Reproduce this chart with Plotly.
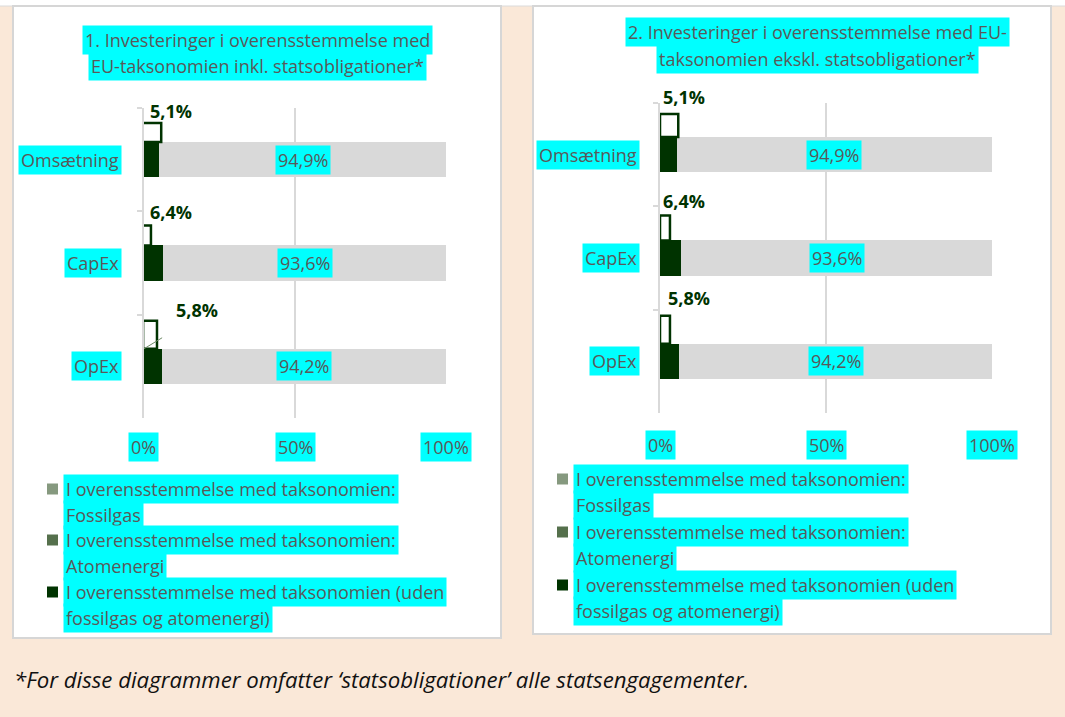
import plotly.graph_objects as go

# ---------------- data ----------------
categories = ["Omsætning", "CapEx", "OpEx"]
series_names = [
    "I overensstemmelse med taksonomien: Fossilgas",
    "I overensstemmelse med taksonomien: Atomenergi",
    "I overensstemmelse med taksonomien (uden fossilgas og atomenergi)",
    "Ikke i overensstemmelse med taksonomien",
]
legend_lines = [
    ["I overensstemmelse med taksonomien:", "Fossilgas"],
    ["I overensstemmelse med taksonomien:", "Atomenergi"],
    ["I overensstemmelse med taksonomien (uden", "fossilgas og atomenergi)"],
]
# chart 1: incl. sovereign bonds
fossilgas_1 = [0.0, 0.0, 0.0]
atomenergi_1 = [0.0, 0.0, 0.0]
aligned_1 = [5.1, 6.4, 5.8]
other_1 = [94.9, 93.6, 94.2]
# chart 2: excl. sovereign bonds
fossilgas_2 = [0.0, 0.0, 0.0]
atomenergi_2 = [0.0, 0.0, 0.0]
aligned_2 = [5.1, 6.4, 5.8]
other_2 = [94.9, 93.6, 94.2]

title_1 = ["1. Investeringer i overensstemmelse med", "EU-taksonomien inkl. statsobligationer*"]
title_2 = ["2. Investeringer i overensstemmelse med EU-", "taksonomien ekskl. statsobligationer*"]
x_ticks = [0, 50, 100]
x_tick_labels = ["0%", "50%", "100%"]
footnote = "*For disse diagrammer omfatter \u2018statsobligationer\u2019 alle statsengagementer."

# ---------------- style ----------------
W, H = 1065, 717
FONT = "Open Sans"
TXT = "#595959"
CYAN = "#00FFFF"
C_FOSSIL = "#86997F"
C_ATOM = "#55704C"
C_DARK = "#003300"
C_GRAY = "#D9D9D9"
BG = "#FAE8D8"
FS = 18
BAR_W = 0.34


def px(x):
    return x / W


def py(y):
    return 1 - y / H


def pct(v):
    return f"{v:.1f}".replace(".", ",") + "%"


panels = [
    dict(xa="x", ya="y", xdom=(144, 446), ydom=(108, 418), box=(13, 6, 501, 638),
         title=title_1, title_cx=257, title_y=(40, 66), cat_right=122, tick_y=447,
         legend_x=47, legend_y=[489, 540, 592],
         data=(fossilgas_1, atomenergi_1, aligned_1, other_1),
         lab_off=[(12, 49), (8, 51), (35, 56)],
         callout=[(-0.5, 5.7, 19), (-1.3, 2.3, 20), (-0.3, 4.3, 28)],
         diag=[None, None, (6, 11)]),
    dict(xa="x2", ya="y2", xdom=(660, 992), ydom=(103, 413), box=(533, 6, 1051, 634),
         title=title_2, title_cx=817, title_y=(32, 59), cat_right=640, tick_y=445,
         legend_x=557, legend_y=[479, 532, 585],
         data=(fossilgas_2, atomenergi_2, aligned_2, other_2),
         lab_off=[(7, 58), (3, 57), (10, 63)],
         callout=[(0, 5.5, 23), (0, 3, 25), (0, 3, 28)],
         diag=[None, None, None]),
]

fig = go.Figure()
shapes = []
annotations = []

# top white strip
shapes.append(dict(type="rect", xref="paper", yref="paper", x0=0, x1=1, y0=py(6), y1=1,
                   fillcolor="white", line=dict(width=0), layer="below"))
shapes.append(dict(type="line", xref="paper", yref="paper", x0=0, x1=1, y0=py(6), y1=py(6),
                   line=dict(color="#DADADA", width=1), layer="below"))

colors = [C_FOSSIL, C_ATOM, C_DARK, C_GRAY]


def txt(**kw):
    base = dict(showarrow=False, xanchor="center", yanchor="middle",
                font=dict(family=FONT, size=FS, color=TXT))
    base.update(kw)
    return base


for pi, p in enumerate(panels):
    xa, ya = p["xa"], p["ya"]
    x0, y0, x1, y1 = p["box"]
    shapes.append(dict(type="rect", xref="paper", yref="paper", x0=px(x0), x1=px(x1),
                       y0=py(y1), y1=py(y0), fillcolor="white",
                       line=dict(color="#D6D6D6", width=2), layer="below"))
    for si, vals in enumerate(p["data"]):
        fig.add_trace(go.Bar(
            y=categories, x=vals, orientation="h", name=series_names[si], width=BAR_W,
            marker=dict(color=colors[si], line=dict(width=0)),
            xaxis=xa, yaxis=ya, showlegend=False, hoverinfo="x+y+name",
        ))
    fossil, atom, aligned, other = p["data"]
    catpx = (p["ydom"][1] - p["ydom"][0]) / len(categories)
    for ci, cat in enumerate(categories):
        base = fossil[ci] + atom[ci] + aligned[ci]
        annotations.append(txt(xref=xa, yref=ya, x=base + other[ci] / 2, y=cat,
                               text=pct(other[ci]), bgcolor=CYAN, borderpad=2))
        dx, dy = p["lab_off"][ci]
        annotations.append(txt(xref=xa, yref=ya, x=base, y=cat, xshift=dx, yshift=dy,
                               text="<b>" + pct(aligned[ci]) + "</b>",
                               font=dict(family=FONT, size=FS, color=C_DARK)))
        cx0, cx1, ch = p["callout"][ci]
        top = ci - BAR_W / 2
        shapes.append(dict(type="rect", xref=xa, yref=ya, x0=cx0, x1=cx1,
                           y0=top, y1=top - ch / catpx, fillcolor="white",
                           line=dict(color=C_DARK, width=2.5)))
        if p["diag"][ci] is not None:
            ddx, ddy = p["diag"][ci]
            shapes.append(dict(type="line", xref=xa, yref=ya, x0=0, x1=ddx,
                               y0=top, y1=top - ddy / catpx,
                               line=dict(color="#6E8A66", width=1)))
        annotations.append(txt(xref="paper", yref=ya, x=px(p["cat_right"]), y=cat,
                               xanchor="right", text=cat, bgcolor=CYAN, borderpad=2))
    for tv, tl in zip(x_ticks, x_tick_labels):
        annotations.append(txt(xref=xa, yref="paper", x=tv, y=py(p["tick_y"]), text=tl,
                               bgcolor=CYAN, borderpad=2))
    for li, line in enumerate(p["title"]):
        annotations.append(txt(xref="paper", yref="paper", x=px(p["title_cx"]),
                               y=py(p["title_y"][li]), text=line, bgcolor=CYAN, borderpad=2))
    lx = p["legend_x"]
    for k, lines in enumerate(legend_lines):
        yc = p["legend_y"][k]
        shapes.append(dict(type="rect", xref="paper", yref="paper", x0=px(lx), x1=px(lx + 11),
                           y0=py(yc + 5.5), y1=py(yc - 5.5), fillcolor=colors[k],
                           line=dict(width=0)))
        for li, line in enumerate(lines):
            annotations.append(txt(xref="paper", yref="paper", x=px(lx + 16),
                                   y=py(yc + li * 25.5), xanchor="left",
                                   text=line, bgcolor=CYAN, borderpad=2))

annotations.append(txt(xref="paper", yref="paper", x=px(12), y=py(679), xanchor="left",
                       text="<i>" + footnote + "</i>",
                       font=dict(family=FONT, size=22.2, color="#111111")))

n = len(categories)
axis_common_x = dict(range=[0, 100], tickvals=x_ticks, showticklabels=False, showgrid=True,
                     gridcolor=C_GRAY, gridwidth=2, zeroline=False, showline=False, fixedrange=True)
axis_common_y = dict(type="category", categoryorder="array", categoryarray=categories,
                     range=[n - 0.5, -0.5], autorange=False,
                     showticklabels=False, showgrid=False, zeroline=False,
                     showline=True, linecolor=C_GRAY, linewidth=2, ticks="outside",
                     tickson="boundaries", ticklen=5, tickcolor=C_GRAY, tickwidth=2, fixedrange=True)

p1, p2 = panels
fig.update_layout(
    width=W, height=H, margin=dict(l=0, r=0, t=0, b=0),
    paper_bgcolor=BG, plot_bgcolor="rgba(0,0,0,0)",
    barmode="stack", showlegend=False,
    xaxis=dict(domain=[px(p1["xdom"][0]), px(p1["xdom"][1])], anchor="y", **axis_common_x),
    yaxis=dict(domain=[py(p1["ydom"][1]), py(p1["ydom"][0])], anchor="x", **axis_common_y),
    xaxis2=dict(domain=[px(p2["xdom"][0]), px(p2["xdom"][1])], anchor="y2", **axis_common_x),
    yaxis2=dict(domain=[py(p2["ydom"][1]), py(p2["ydom"][0])], anchor="x2", **axis_common_y),
    shapes=shapes, annotations=annotations,
    font=dict(family=FONT, color=TXT),
)

fig.write_html("out.html", config={"displayModeBar": False},
               post_script="document.body.style.margin='0';document.body.style.overflow='hidden';")
